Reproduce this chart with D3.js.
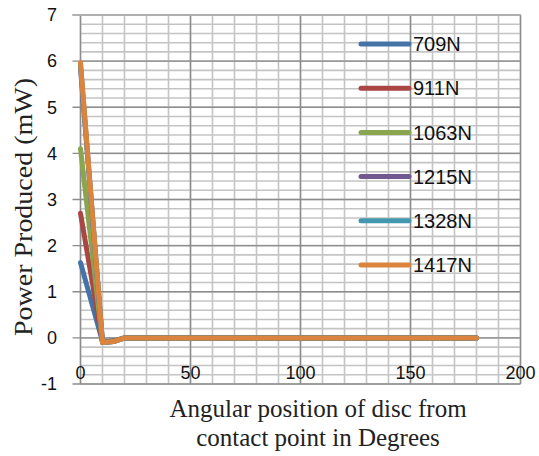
<!DOCTYPE html>
<html>
<head>
<meta charset="utf-8">
<script src="https://cdn.jsdelivr.net/npm/d3@7"></script>
<style>
  body { margin: 0; background: #fff; }
  svg { display: block; }
</style>
</head>
<body>
<div id="chart"></div>
<script>
// data (1215N and 1328N sit under the 1417N line)
var angles = [0, 10, 15, 20, 30, 40, 50, 60, 70, 80, 90, 100, 110, 120, 130, 140, 150, 160, 170, 180];
var seriesNames = ["709N", "911N", "1063N", "1215N", "1328N", "1417N"];
var seriesColors = ["#4572a7", "#aa4643", "#89a54e", "#71588f", "#4198af", "#db843d"];
var power709 = [1.63, -0.08, -0.07, 0, 0, 0, 0, 0, 0, 0, 0, 0, 0, 0, 0, 0, 0, 0, 0, 0];
var power911 = [2.7, -0.09, -0.07, 0, 0, 0, 0, 0, 0, 0, 0, 0, 0, 0, 0, 0, 0, 0, 0, 0];
var power1063 = [4.1, -0.1, -0.08, 0, 0, 0, 0, 0, 0, 0, 0, 0, 0, 0, 0, 0, 0, 0, 0, 0];
var power1215 = [5.85, -0.1, -0.08, 0, 0, 0, 0, 0, 0, 0, 0, 0, 0, 0, 0, 0, 0, 0, 0, 0];
var power1328 = [5.92, -0.1, -0.08, 0, 0, 0, 0, 0, 0, 0, 0, 0, 0, 0, 0, 0, 0, 0, 0, 0];
var power1417 = [5.97, -0.1, -0.08, 0, 0, 0, 0, 0, 0, 0, 0, 0, 0, 0, 0, 0, 0, 0, 0, 0];
var allPower = [power709, power911, power1063, power1215, power1328, power1417];
var xTicks = [0, 50, 100, 150, 200];
var yTicks = [-1, 0, 1, 2, 3, 4, 5, 6, 7];

var width = 539, height = 456;

var svg = d3.select("#chart").append("svg")
    .attr("width", width)
    .attr("height", height);

// scales
var x = d3.scaleLinear().domain([0, 200]).range([80.5, 520.5]);
var y = d3.scaleLinear().domain([-1, 7]).range([384, 15]);

// minor grid
var grid = svg.append("g");
grid.selectAll(".vminor")
    .data(d3.range(0, 201, 10))
  .enter().append("line")
    .attr("x1", function(d) { return x(d); })
    .attr("x2", function(d) { return x(d); })
    .attr("y1", y(7)).attr("y2", y(-1))
    .style("stroke", "#c4c4c4").style("stroke-width", 1.6);
grid.selectAll(".hminor")
    .data(d3.range(-5, 36).map(function(d) { return d / 5; }))
  .enter().append("line")
    .attr("x1", x(0)).attr("x2", x(200))
    .attr("y1", function(d) { return y(d); })
    .attr("y2", function(d) { return y(d); })
    .style("stroke", "#c4c4c4").style("stroke-width", 1.6);

// major grid
grid.selectAll(".vmajor")
    .data(xTicks)
  .enter().append("line")
    .attr("x1", function(d) { return x(d); })
    .attr("x2", function(d) { return x(d); })
    .attr("y1", y(7)).attr("y2", y(-1))
    .style("stroke", "#8c8c8c").style("stroke-width", 1.4);
grid.selectAll(".hmajor")
    .data(yTicks)
  .enter().append("line")
    .attr("x1", x(0) - 8).attr("x2", x(200))
    .attr("y1", function(d) { return y(d); })
    .attr("y2", function(d) { return y(d); })
    .style("stroke", "#8c8c8c").style("stroke-width", 1.4);
// top border lighter
svg.append("line")
    .attr("x1", x(0) - 8).attr("x2", x(200))
    .attr("y1", y(7)).attr("y2", y(7))
    .style("stroke", "#b4b4b4").style("stroke-width", 1.6);

// y tick labels
svg.append("g").selectAll("text")
    .data(yTicks)
  .enter().append("text")
    .attr("x", 57)
    .attr("y", function(d) { return y(d); })
    .attr("dy", "0.35em")
    .attr("text-anchor", "end")
    .style("font-family", "'Liberation Sans', Arial, sans-serif")
    .style("font-size", "18px")
    .style("fill", "#111")
    .text(function(d) { return d; });

// x tick labels (sit near the bottom inside the plot)
svg.append("g").selectAll("text")
    .data(xTicks)
  .enter().append("text")
    .attr("x", function(d) { return x(d); })
    .attr("y", 373)
    .attr("dy", "0.35em")
    .attr("text-anchor", "middle")
    .style("font-family", "'Liberation Sans', Arial, sans-serif")
    .style("font-size", "18px")
    .style("fill", "#111")
    .text(function(d) { return d; });

// lines
var plot_line = d3.line()
    .x(function(d, i) { return x(angles[i]); })
    .y(function(d) { return y(d); });

svg.append("g").selectAll("path")
    .data(allPower)
  .enter().append("path")
    .attr("d", plot_line)
    .style("fill", "none")
    .style("stroke", function(d, i) { return seriesColors[i]; })
    .style("stroke-width", 5)
    .style("stroke-linejoin", "round")
    .style("stroke-linecap", "round");

// legend
var legend = svg.append("g").selectAll("g")
    .data(seriesNames)
  .enter().append("g")
    .attr("transform", function(d, i) { return "translate(0," + (44 + i * 44.2) + ")"; });
legend.append("line")
    .attr("x1", 361).attr("x2", 409)
    .attr("y1", 0).attr("y2", 0)
    .style("stroke", function(d, i) { return seriesColors[i]; })
    .style("stroke-width", 5)
    .style("stroke-linecap", "round");
legend.append("text")
    .attr("x", 413)
    .attr("y", 0)
    .attr("dy", "0.36em")
    .style("font-family", "'Liberation Sans', Arial, sans-serif")
    .style("font-size", "20px")
    .style("fill", "#111")
    .text(function(d) { return d; });

// axis titles
svg.append("text")
    .attr("transform", "translate(23,207) rotate(-90)")
    .attr("text-anchor", "middle")
    .attr("dy", "0.35em")
    .attr("textLength", 258)
    .attr("lengthAdjust", "spacingAndGlyphs")
    .style("font-family", "'Liberation Serif', 'Times New Roman', serif")
    .style("font-size", "25px")
    .style("fill", "#222")
    .text("Power Produced (mW)");

svg.append("text")
    .attr("x", 318).attr("y", 417)
    .attr("text-anchor", "middle")
    .style("font-family", "'Liberation Serif', 'Times New Roman', serif")
    .style("font-size", "25px")
    .style("fill", "#222")
    .text("Angular position of disc from");
svg.append("text")
    .attr("x", 318).attr("y", 446)
    .attr("text-anchor", "middle")
    .style("font-family", "'Liberation Serif', 'Times New Roman', serif")
    .style("font-size", "25px")
    .style("fill", "#222")
    .text("contact point in Degrees");
</script>
</body>
</html>
